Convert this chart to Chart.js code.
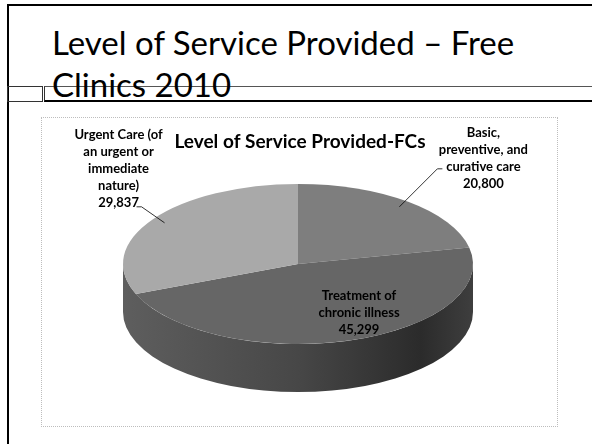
<!DOCTYPE html>
<html>
<head>
<meta charset="utf-8">
<script src="https://cdn.jsdelivr.net/npm/chart.js@4"></script>
<style>
    html, body { margin: 0; padding: 0; background: #fff; }
    #slide { position: relative; width: 592px; height: 444px; overflow: hidden; font-family: 'Lato', sans-serif; }
    .frameTop { position: absolute; left: 7px; top: 4px; width: 590px; height: 2px; background: #000; }
    .frameLeft { position: absolute; left: 7px; top: 4px; width: 2px; height: 450px; background: #000; }
    .boxSmall { position: absolute; left: 7px; top: 86px; width: 34px; height: 14px; border: 1px solid #333; }
    .boxWide { position: absolute; left: 44px; top: 86px; width: 560px; height: 13px; border-top: 1px solid #555; border-left: 1px solid #333; border-bottom: 2px solid #000; }
    .slideTitle { position: absolute; left: 52px; top: 21px; font-size: 33px; line-height: 42px; color: #000; }
    .chartBox { position: absolute; left: 41px; top: 117px; width: 515px; height: 308px; border: 1px dotted #bdbdbd; }
    #chartWrap { position: absolute; left: 0; top: 0; width: 592px; height: 444px; }
</style>
</head>
<body>
<div id="slide">
    <div class="frameTop"></div>
    <div class="frameLeft"></div>
    <div class="boxSmall"></div>
    <div class="boxWide"></div>
    <div class="slideTitle">Level of Service Provided &ndash; Free<br>Clinics 2010</div>
    <div class="chartBox"></div>
    <div id="chartWrap"><canvas id="serviceChart"></canvas></div>
</div>
<script>
const categories = [
    ['Basic,', 'preventive, and', 'curative care'],
    ['Treatment of', 'chronic illness'],
    ['Urgent Care (of', 'an urgent or', 'immediate', 'nature)']
];
const serviceCounts = [20800, 45299, 29837];
const sliceColors = ['#7e7e7e', '#666666', '#a9a9a9'];

// where the flattened pie sits on the page
const pieShape = { cx: 298, cy: 264, rx: 175, ry: 80, depth: 48 };

// label text offsets from the slice anchor point
const labelSpots = [
    { edge: 0.92, dx: 84, dy: -74, leader: [38, -38, 5] },
    { edge: 0, dx: 61, dy: 32, leader: null },
    { edge: 0.92, dx: -46, dy: -88, leader: [-23, -16, -5] }
];

function anchorOf(arc, f) {
    const p = arc.getProps(['startAngle', 'endAngle'], true);
    const mid = (p.startAngle + p.endAngle) / 2;
    return {
        x: pieShape.cx + Math.cos(mid) * pieShape.rx * f,
        y: pieShape.cy + Math.sin(mid) * pieShape.ry * f
    };
}

const pie3d = {
    id: 'pie3d',
    beforeDatasetsDraw(chart) {
        const ctx = chart.ctx;
        const meta = chart.getDatasetMeta(0);
        const first = meta.data[0].getProps(['x', 'y', 'outerRadius'], true);

        // front wall of the pie
        const s = pieShape;
        const grad = ctx.createLinearGradient(s.cx - s.rx, 0, s.cx + s.rx, 0);
        grad.addColorStop(0, '#5e5e5e');
        grad.addColorStop(0.5, '#474747');
        grad.addColorStop(0.85, '#2b2b2b');
        grad.addColorStop(1, '#3e3e3e');
        ctx.save();
        ctx.beginPath();
        ctx.ellipse(s.cx, s.cy, s.rx, s.ry, 0, 0, Math.PI);
        ctx.ellipse(s.cx, s.cy + s.depth, s.rx, s.ry, 0, Math.PI, 0, true);
        ctx.closePath();
        ctx.fillStyle = grad;
        ctx.fill();
        ctx.restore();

        // squash the library's pie into the top ellipse
        ctx.save();
        ctx.translate(s.cx, s.cy);
        ctx.scale(s.rx / first.outerRadius, s.ry / first.outerRadius);
        ctx.translate(-first.x, -first.y);
    },
    afterDatasetsDraw(chart) {
        const ctx = chart.ctx;
        ctx.restore();
        const meta = chart.getDatasetMeta(0);
        ctx.save();
        ctx.font = 'bold 13px Lato';
        ctx.fillStyle = '#000';
        ctx.strokeStyle = '#000';
        ctx.lineWidth = 0.8;
        ctx.textAlign = 'center';
        ctx.textBaseline = 'middle';
        meta.data.forEach((arc, i) => {
            const spot = labelSpots[i];
            const a = anchorOf(arc, spot.edge);
            const lines = categories[i].concat([serviceCounts[i].toLocaleString('en-US')]);
            lines.forEach((t, k) => {
                ctx.fillText(t, a.x + spot.dx, a.y + spot.dy + k * 17);
            });
            if (spot.leader) {
                const ex = a.x + spot.leader[0], ey = a.y + spot.leader[1];
                ctx.beginPath();
                ctx.moveTo(a.x, a.y);
                ctx.lineTo(ex, ey);
                ctx.lineTo(ex + spot.leader[2], ey);
                ctx.stroke();
            }
        });
        ctx.restore();
    }
};

const serviceCtx = document.getElementById('serviceChart').getContext('2d');
const serviceChart = new Chart(serviceCtx, {
    type: 'pie',
    data: {
        labels: categories,
        datasets: [{
            data: serviceCounts,
            backgroundColor: sliceColors,
            borderWidth: 0
        }]
    },
    options: {
        responsive: true,
        maintainAspectRatio: false,
        animation: false,
        layout: { padding: { left: 8 } },
        plugins: {
            legend: { display: false },
            tooltip: { enabled: false },
            title: {
                display: true,
                text: 'Level of Service Provided-FCs',
                color: '#000',
                font: { family: 'Lato', size: 19, weight: 'bold' },
                padding: { top: 130, bottom: 0 }
            }
        }
    },
    plugins: [pie3d]
});
</script>
</body>
</html>
